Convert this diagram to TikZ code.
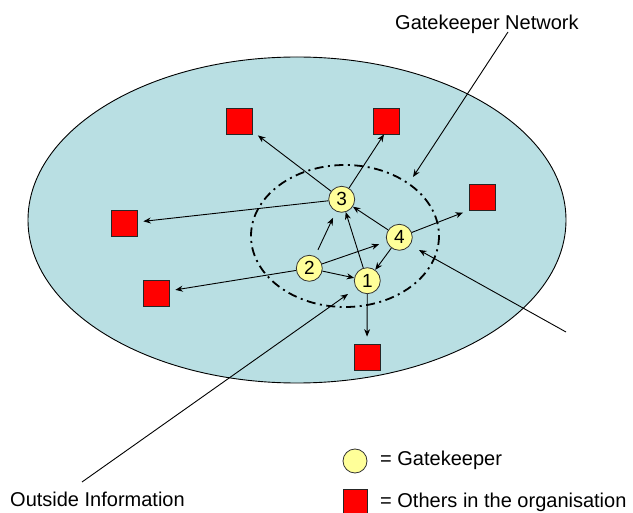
\documentclass[tikz,border=0pt]{standalone}
\usepackage{fontspec}
\setmainfont{Liberation Sans}
\usetikzlibrary{arrows.meta}
\definecolor{orgfill}{RGB}{185,223,227}
\definecolor{gkfill}{RGB}{255,255,153}
\begin{document}
\begin{tikzpicture}[x=1pt,y=-1pt,
  gk/.style={circle,draw=black!80,line width=0.8pt,fill=gkfill,minimum size=26pt,inner sep=0pt,font=\fontsize{19}{19}\selectfont},
  other/.style={rectangle,draw=black!85,line width=0.8pt,fill=red,minimum size=26pt,inner sep=0pt},
  arr/.style={line width=0.9pt,-{Stealth[length=7.5pt,width=6pt]}},
  lbl/.style={font=\fontsize{20}{24}\selectfont,inner sep=0pt,anchor=base west}]
\useasboundingbox (0,0) rectangle (633,513);
% organisation
\draw[fill=orgfill,line width=0.9pt] (297,220) ellipse [x radius=269,y radius=163];
% gatekeeper network boundary
\draw[line width=1.8pt,dash pattern=on 9pt off 4.5pt on 2pt off 4.5pt] (345,236) ellipse [x radius=94,y radius=71];
% others
\node[other] (sTL) at (239,121) {};
\node[other] (sTR) at (386,121) {};
\node[other] (sL) at (124,223.5) {};
\node[other] (sLL) at (156,293) {};
\node[other] (sR) at (482,197) {};
\node[other] (sB) at (367,357) {};
% gatekeepers
\node[gk] (g3) at (341.7,199.3) {3};
\node[gk] (g4) at (399.3,237.3) {4};
\node[gk] (g2) at (309.3,268.3) {2};
\node[gk] (g1) at (367.3,280.7) {1};
% arrows to others
\draw[arr,shorten >=7pt] (g3) -- (sTL);
\draw[arr] (g3) -- ([xshift=-2pt]sTR.south);
\draw[arr,shorten >=6pt] (g3) -- (sL);
\draw[arr,shorten >=6pt] (g2) -- (sLL);
\draw[arr,shorten >=6pt] (g4) -- (sR.south west);
\draw[arr,shorten >=7pt] (g1) -- (sB);
% arrows among gatekeepers
\draw[arr,shorten <=7pt,shorten >=7pt] (g2) -- (g3);
\draw[arr,shorten >=8pt] (g2) -- (g4);
\draw[arr] (g2) -- (g1);
\draw[arr] (g1) -- (g3);
\draw[arr] (g4) -- (g3);
\draw[arr] (g4) -- (g1);
% labels
\node[lbl] (tGN) at (395,30) {Gatekeeper Network};
\node[lbl] (tOI) at (10,507) {Outside Information};
\coordinate (cGN) at (508,32);
\coordinate (tipGN) at (413,177);
\coordinate (cOI) at (82,482);
\coordinate (tipOI) at (348,294);
\coordinate (cR) at (566,332);
\coordinate (tipR) at (419,250);
\draw[arr] (cGN) -- (tipGN);
\draw[arr] (cOI) -- (tipOI);
\draw[arr] (cR) -- (tipR);
% legend
\node[gk,minimum size=24pt] (lg) at (355,461) {};
\node[other,minimum size=24pt] (lo) at (355,501) {};
\node[lbl] (tlg) at (380,466) {= Gatekeeper};
\node[lbl] (tlo) at (380,508) {= Others in the organisation};
\end{tikzpicture}
\end{document}
